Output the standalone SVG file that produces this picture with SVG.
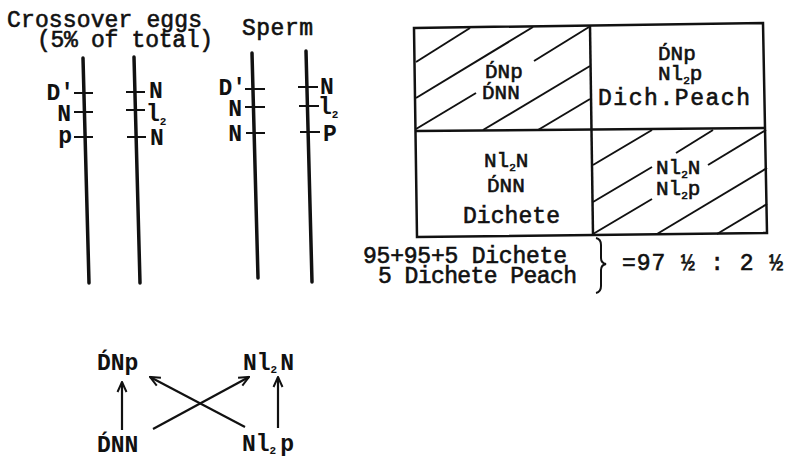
<svg xmlns="http://www.w3.org/2000/svg" width="786" height="459" viewBox="0 0 786 459">
<style>
  .tw{font-family:"Liberation Mono","DejaVu Sans Mono",monospace;font-size:23px;fill:#111;stroke:#111;stroke-width:0.6}
  .lb{font-family:"Liberation Mono","DejaVu Sans Mono",monospace;font-size:23px;font-weight:bold;fill:#111}
  .gt{font-family:"Liberation Mono","DejaVu Sans Mono",monospace;font-size:21px;fill:#111;stroke:#111;stroke-width:0.6}
  .sub{font-size:11px}
  .chrom{stroke:#111;stroke-width:3.5;stroke-linecap:round;fill:none}
  .tick{stroke:#111;stroke-width:2;fill:none}
  .box{stroke:#111;stroke-width:2.5;fill:none}
  .hatch{stroke:#111;stroke-width:2;fill:none}
  .arr{stroke:#111;stroke-width:2.2;fill:none;marker-end:url(#ah)}
</style>
<defs>
  <marker id="ah" viewBox="0 0 12 12" refX="11" refY="6" markerWidth="12" markerHeight="12" markerUnits="userSpaceOnUse" orient="auto">
    <path d="M1,1.5 L11,6 L1,10.5" fill="none" stroke="#111" stroke-width="2"/>
  </marker>
</defs>
<rect width="786" height="459" fill="#fff"/>

<g id="headings">
  <text class="tw" x="7" y="27" textLength="195">Crossover eggs</text>
  <text class="tw" x="37" y="47" textLength="176">(5% of total)</text>
  <text class="tw" x="242" y="35" textLength="71">Sperm</text>
</g>

<g id="egg-chromosome-1">
  <line class="chrom" x1="83" y1="58" x2="89" y2="283"/>
  <line class="tick" x1="74" y1="93" x2="93" y2="93"/>
  <line class="tick" x1="74" y1="112" x2="93" y2="112"/>
  <line class="tick" x1="74" y1="137" x2="93" y2="137"/>
  <text class="lb" x="74" y="100" text-anchor="end">D′</text>
  <text class="lb" x="71" y="121" text-anchor="end">N</text>
  <text class="lb" x="72" y="143" text-anchor="end">p</text>
</g>
<g id="egg-chromosome-2">
  <line class="chrom" x1="134" y1="57" x2="140" y2="283"/>
  <line class="tick" x1="126" y1="92" x2="145" y2="92"/>
  <line class="tick" x1="126" y1="110" x2="145" y2="110"/>
  <line class="tick" x1="127" y1="137" x2="146" y2="137"/>
  <text class="lb" x="149" y="98">N</text>
  <text class="lb" x="146" y="121">l<tspan class="sub" dy="4">2</tspan></text>
  <text class="lb" x="150" y="145">N</text>
</g>
<g id="sperm-chromosome-1">
  <line class="chrom" x1="252" y1="53" x2="258" y2="278"/>
  <line class="tick" x1="245" y1="89" x2="265" y2="89"/>
  <line class="tick" x1="245" y1="107" x2="265" y2="107"/>
  <line class="tick" x1="246" y1="133" x2="265" y2="133"/>
  <text class="lb" x="246" y="95" text-anchor="end">D′</text>
  <text class="lb" x="242" y="116" text-anchor="end">N</text>
  <text class="lb" x="242" y="141" text-anchor="end">N</text>
</g>
<g id="sperm-chromosome-2">
  <line class="chrom" x1="306" y1="51" x2="312" y2="282"/>
  <line class="tick" x1="298" y1="87" x2="318" y2="87"/>
  <line class="tick" x1="299" y1="106" x2="319" y2="106"/>
  <line class="tick" x1="300" y1="132" x2="320" y2="132"/>
  <text class="lb" x="320" y="94">N</text>
  <text class="lb" x="318" y="114">l<tspan class="sub" dy="4">2</tspan></text>
  <text class="lb" x="323" y="141">P</text>
</g>

<g id="punnett-grid">
  <polygon class="box" points="414,28 763,23 767,233 417,237"/>
  <line class="box" x1="590" y1="26" x2="593" y2="235"/>
  <line class="box" x1="415" y1="131" x2="765" y2="128"/>
</g>

<g id="cell-top-left">
  <line class="hatch" x1="416" y1="62" x2="470" y2="28"/>
  <line class="hatch" x1="416" y1="98" x2="533" y2="27"/>
  <line class="hatch" x1="416" y1="129" x2="476" y2="93"/>
  <line class="hatch" x1="534" y1="61" x2="589" y2="27"/>
  <line class="hatch" x1="483" y1="130" x2="590" y2="66"/>
  <line class="hatch" x1="538" y1="130" x2="590" y2="99"/>
  <text class="gt" x="485" y="78">D́Np</text>
  <text class="gt" x="482" y="99">D́NN</text>
</g>
<g id="cell-top-right">
  <text class="gt" x="658" y="60">D́Np</text>
  <text class="gt" x="658" y="80">Nl<tspan class="sub" font-size="8" dy="4">2</tspan><tspan dy="-4">p</tspan></text>
  <text class="tw" x="598" y="105" textLength="152">Dich.Peach</text>
</g>
<g id="cell-bottom-left">
  <text class="gt" x="484" y="167">Nl<tspan class="sub" font-size="8" dy="4">2</tspan><tspan dy="-4">N</tspan></text>
  <text class="gt" x="487" y="192">D́NN</text>
  <text class="tw" x="463" y="223" textLength="97">Dichete</text>
</g>
<g id="cell-bottom-right">
  <line class="hatch" x1="593" y1="165" x2="652" y2="130"/>
  <line class="hatch" x1="593" y1="202" x2="652" y2="167"/>
  <line class="hatch" x1="676" y1="153" x2="713" y2="130"/>
  <line class="hatch" x1="593" y1="234" x2="652" y2="199"/>
  <line class="hatch" x1="708" y1="165" x2="766" y2="130"/>
  <line class="hatch" x1="657" y1="234" x2="767" y2="168"/>
  <line class="hatch" x1="717" y1="234" x2="767" y2="204"/>
  <text class="gt" x="656" y="174">Nl<tspan class="sub" font-size="8" dy="4">2</tspan><tspan dy="-4">N</tspan></text>
  <text class="gt" x="656" y="195">Nl<tspan class="sub" font-size="8" dy="4">2</tspan><tspan dy="-4">p</tspan></text>
</g>

<g id="totals">
  <text class="tw" x="363" y="263" textLength="204">95+95+5 Dichete</text>
  <text class="tw" x="378" y="283" textLength="199">5 Dichete Peach</text>
  <path d="M596,238 Q601,239 601,245 L601,258 Q601,263 606,264 Q601,265 601,270 L601,286 Q601,292 596,293" fill="none" stroke="#111" stroke-width="2"/>
  <text class="tw" x="622" y="270" textLength="161">=97 ½ : 2 ½</text>
</g>

<g id="node-DNp"><text class="lb" x="97" y="370">D́Np</text></g>
<g id="node-Nl2N"><text class="lb" x="243" y="370">Nl<tspan class="sub" dy="3">2</tspan><tspan dx="3" dy="-3">N</tspan></text></g>
<g id="node-DNN"><text class="lb" x="97" y="452">D́NN</text></g>
<g id="node-Nl2p"><text class="lb" x="242" y="451">Nl<tspan class="sub" dy="3">2</tspan><tspan dx="4" dy="-3">p</tspan></text></g>

<g id="connectors">
  <line class="arr" x1="122" y1="430" x2="122" y2="382"/>
  <line class="arr" x1="278" y1="428" x2="278" y2="377"/>
  <line class="arr" x1="153" y1="429" x2="249" y2="377"/>
  <line class="arr" x1="245" y1="427" x2="150" y2="377"/>
</g>
</svg>
